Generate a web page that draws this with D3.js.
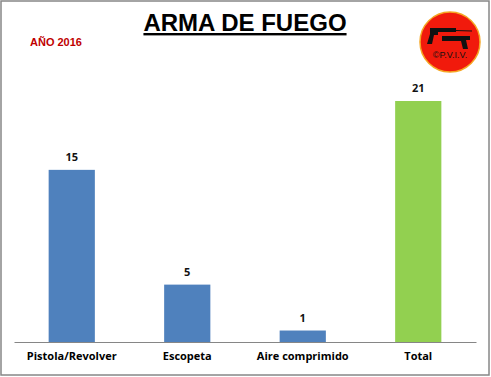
<!DOCTYPE html>
<html>
<head>
<meta charset="utf-8">
<script src="https://cdn.jsdelivr.net/npm/d3@7"></script>
<style>
  body { margin: 0; background: #fff; }
  svg { display: block; }
</style>
</head>
<body>
<div id="chart"></div>
<script>
const categories = ["Pistola/Revolver", "Escopeta", "Aire comprimido", "Total"];
const values = [15, 5, 1, 21];
const barColors = ["#4f81bd", "#4f81bd", "#4f81bd", "#92d050"];

(function() {
  const width = 491;
  const height = 377;
  const margin = { top: 101, right: 15, bottom: 35, left: 14 };
  const innerW = width - margin.left - margin.right;
  const innerH = height - margin.top - margin.bottom;

  const svg = d3.select("#chart")
    .append("svg")
    .attr("width", width)
    .attr("height", height);

  // Frame
  svg.append("rect")
    .attr("x", 1).attr("y", 1)
    .attr("width", width - 3).attr("height", height - 3)
    .attr("fill", "#fff")
    .attr("stroke", "#878787")
    .attr("stroke-width", 1.5);

  const g = svg.append("g")
    .attr("transform", `translate(${margin.left},${margin.top})`);

  const x = d3.scaleBand()
    .domain(categories)
    .range([0, innerW])
    .paddingInner(0.6)
    .paddingOuter(0.3);

  const y = d3.scaleLinear()
    .domain([0, 21])
    .range([innerH, 0]);

  // Bars
  g.selectAll(".bar")
    .data(values)
    .join("rect")
    .attr("class", "bar")
    .attr("x", (d, i) => x(categories[i]))
    .attr("y", d => y(d))
    .attr("width", x.bandwidth())
    .attr("height", d => innerH - y(d))
    .attr("fill", (d, i) => barColors[i]);

  // Value labels
  g.selectAll(".val")
    .data(values)
    .join("text")
    .attr("class", "val")
    .attr("x", (d, i) => x(categories[i]) + x.bandwidth() / 2)
    .attr("y", d => y(d) - 9)
    .attr("text-anchor", "middle")
    .attr("font-family", "'Open Sans', sans-serif")
    .attr("font-weight", "bold")
    .attr("font-size", "11px")
    .attr("fill", "#111")
    .text(d => d);

  // X axis
  const xAxis = g.append("g")
    .attr("transform", `translate(0,${innerH})`)
    .call(d3.axisBottom(x).tickSize(0).tickPadding(10));
  xAxis.select(".domain").attr("stroke", "#868686").attr("stroke-width", 1);
  xAxis.selectAll("text")
    .attr("font-family", "'Open Sans', sans-serif")
    .attr("font-weight", "bold")
    .attr("font-size", "11px")
    .attr("fill", "#000");

  // Title
  svg.append("text")
    .attr("x", 245)
    .attr("y", 31)
    .attr("text-anchor", "middle")
    .attr("font-family", "'Liberation Sans', Arial, sans-serif")
    .attr("font-weight", "bold")
    .attr("font-size", "24px")
    .attr("fill", "#000")
    .attr("text-decoration", "underline")
    .text("ARMA DE FUEGO");

  // Year label
  svg.append("text")
    .attr("x", 30)
    .attr("y", 46)
    .attr("font-family", "'Liberation Sans', Arial, sans-serif")
    .attr("font-weight", "bold")
    .attr("font-size", "11px")
    .attr("fill", "#c00000")
    .text("AÑO 2016");

  // Logo
  const logo = svg.append("g").attr("transform", "translate(450,42)");
  logo.append("circle")
    .attr("r", 30)
    .attr("fill", "#f11a0c")
    .attr("stroke", "#f5a623")
    .attr("stroke-width", 1.5);
  // left pistol
  logo.append("path")
    .attr("d", "M-20,-14 L6,-14 L6,-10 L-12,-10 L-12,-7 L-16,-7 L-18,2 L-23,2 L-20,-8 Z")
    .attr("fill", "#111");
  // right pistol
  logo.append("path")
    .attr("d", "M-8,-6 L20,-6 L20,-2 L16,-2 L18,7 L13,7 L11,-1 L-8,-1 Z")
    .attr("fill", "#111");
  logo.append("line")
    .attr("x1", -12).attr("y1", -12).attr("x2", 22).attr("y2", -11)
    .attr("stroke", "#111").attr("stroke-width", 1);
  logo.append("text")
    .attr("x", 0)
    .attr("y", 16)
    .attr("text-anchor", "middle")
    .attr("font-family", "'Liberation Sans', Arial, sans-serif")
    .attr("font-size", "9px")
    .attr("fill", "#111")
    .text("©P.V.I.V.");
})();
</script>
</body>
</html>
